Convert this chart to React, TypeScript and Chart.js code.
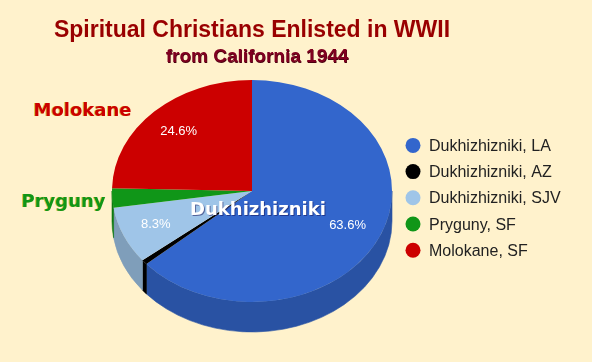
import React, { useEffect, useRef } from 'react';
import { Chart, registerables } from 'chart.js';

Chart.register(...registerables);

// ---- data ----
const categories = [
  'Dukhizhizniki, LA',
  'Dukhizhizniki, AZ',
  'Dukhizhizniki, SJV',
  'Pryguny, SF',
  'Molokane, SF',
];
const shares = [63.6, 0.7, 8.3, 2.8, 24.6];
const sliceColors = ['#3366CC', '#000000', '#9FC5E8', '#109618', '#CC0000'];
const sideColors = ['#2952A3', '#000000', '#7F9EBA', '#0D7813', '#A30000'];
const titleText = 'Spiritual Christians Enlisted in WWII';
const subtitleText = 'from California 1944';
const groupNames = ['Molokane', 'Pryguny', 'Dukhizhizniki'];
const groupColors = ['#CC0000', '#109618', '#FFFFFF'];

const BG = '#FFF2CC';
const TILT = 111 / 140;
const DEPTH = 30;

const pie3d = {
  id: 'pie3d',
  beforeDatasetsDraw(chart: any) {
    const ctx = chart.ctx;
    const meta = chart.getDatasetMeta(0);
    const first = meta.data[0];
    if (!first) return;
    const { x: cx, y: cy, outerRadius: R } = first.getProps(['x', 'y', 'outerRadius'], true);
    const rx = R;
    const ry = R * TILT;
    // side walls (front half only)
    meta.data.forEach((el: any, i: number) => {
      const p = el.getProps(['startAngle', 'endAngle'], true);
      for (let k = -1; k <= 1; k++) {
        const a = Math.max(p.startAngle, 0 + 2 * Math.PI * k);
        const b = Math.min(p.endAngle, Math.PI + 2 * Math.PI * k);
        if (b > a) {
          ctx.save();
          ctx.beginPath();
          ctx.ellipse(cx, cy, rx, ry, 0, a, b, false);
          ctx.lineTo(cx + rx * Math.cos(b), cy + ry * Math.sin(b) + DEPTH);
          ctx.ellipse(cx, cy + DEPTH, rx, ry, 0, b, a, true);
          ctx.closePath();
          ctx.fillStyle = sideColors[i];
          ctx.strokeStyle = sideColors[i];
          ctx.lineWidth = 0.6;
          ctx.fill();
          ctx.stroke();
          ctx.restore();
        }
      }
    });
    ctx.save();
    ctx.translate(cx, cy);
    ctx.scale(1, TILT);
    ctx.translate(-cx, -cy);
  },
  afterDatasetsDraw(chart: any) {
    const ctx = chart.ctx;
    ctx.restore();
    const meta = chart.getDatasetMeta(0);
    const first = meta.data[0];
    if (!first) return;
    const { x: cx, y: cy, outerRadius: R } = first.getProps(['x', 'y', 'outerRadius'], true);
    const values: number[] = chart.data.datasets[0].data;
    const total = values.reduce((s, v) => s + v, 0);
    ctx.save();
    ctx.font = '13px "Liberation Sans", Arial, sans-serif';
    ctx.fillStyle = '#FFFFFF';
    ctx.textAlign = 'center';
    ctx.textBaseline = 'middle';
    meta.data.forEach((el: any, i: number) => {
      const pct = (values[i] / total) * 100;
      if (pct < 5) return;
      const p = el.getProps(['startAngle', 'endAngle'], true);
      const mid = (p.startAngle + p.endAngle) / 2;
      const lx = cx + 0.75 * R * Math.cos(mid);
      const ly = cy + 0.75 * R * TILT * Math.sin(mid);
      ctx.fillText(pct.toFixed(1) + '%', lx, ly);
    });
    ctx.restore();

    // group annotations
    const groupPos = [
      { dx: -169.5, y: 116 },
      { dx: -188.5, y: 207 },
      { dx: 6, y: 215 },
    ];
    ctx.save();
    ctx.font = 'bold 18px "DejaVu Sans", sans-serif';
    ctx.textAlign = 'center';
    ctx.textBaseline = 'alphabetic';
    groupNames.forEach((name, i) => {
      const gx = cx + groupPos[i].dx;
      const gy = groupPos[i].y;
      if (i < 2) {
        ctx.fillStyle = 'rgba(200,170,0,0.7)';
        ctx.fillText(name, gx - 1, gy);
      } else {
        ctx.fillStyle = 'rgba(20,20,90,0.55)';
        ctx.fillText(name, gx + 1, gy + 1);
      }
      ctx.fillStyle = groupColors[i];
      ctx.fillText(name, gx, gy);
    });
    ctx.restore();
  },
  afterDraw(chart: any) {
    const ctx = chart.ctx;
    const meta = chart.getDatasetMeta(0);
    const first = meta.data[0];
    if (!first) return;
    const { x: cx } = first.getProps(['x'], true);
    ctx.save();
    ctx.textAlign = 'center';
    ctx.textBaseline = 'alphabetic';
    ctx.font = 'bold 23px "Liberation Sans", Arial, sans-serif';
    ctx.fillStyle = '#990000';
    ctx.fillText(titleText, cx, 37);
    ctx.font = 'bold 19px "Liberation Sans", Arial, sans-serif';
    ctx.fillStyle = '#4a0010';
    ctx.fillText(subtitleText, cx + 5.5, 62.5);
    ctx.fillStyle = '#800020';
    ctx.fillText(subtitleText, cx + 5, 62);

    // legend
    const labels: string[] = chart.data.labels;
    const colors: string[] = chart.data.datasets[0].backgroundColor;
    ctx.textAlign = 'left';
    ctx.font = '16px "Liberation Sans", Arial, sans-serif';
    labels.forEach((lab, i) => {
      const base = 151 + 26.2 * i;
      ctx.beginPath();
      ctx.arc(413, base - 5.6, 7.5, 0, Math.PI * 2);
      ctx.fillStyle = colors[i];
      ctx.fill();
      ctx.fillStyle = '#222222';
      ctx.fillText(lab, 429, base);
    });
    ctx.restore();
  },
};

export default function App() {
  const ref = useRef<HTMLCanvasElement | null>(null);
  useEffect(() => {
    document.body.style.margin = '0';
    const canvas = ref.current;
    if (!canvas) return;
    const chart = new Chart(canvas, {
      type: 'pie',
      data: {
        labels: categories,
        datasets: [
          {
            data: shares,
            backgroundColor: sliceColors,
            borderWidth: 0,
          },
        ],
      },
      options: {
        animation: false,
        responsive: false,
        maintainAspectRatio: false,
        devicePixelRatio: 1,
        layout: { padding: { left: 112, right: 200, top: 51, bottom: 31 } },
        plugins: {
          legend: { display: false },
          tooltip: { enabled: false },
          title: { display: false },
        },
        events: [],
      },
      plugins: [pie3d],
    });
    return () => chart.destroy();
  }, []);
  return (
    <div style={{ position: 'absolute', left: 0, top: 0, width: 592, height: 362, background: BG }}>
      <canvas ref={ref} width={592} height={362} style={{ display: 'block', width: 592, height: 362 }} />
    </div>
  );
}
